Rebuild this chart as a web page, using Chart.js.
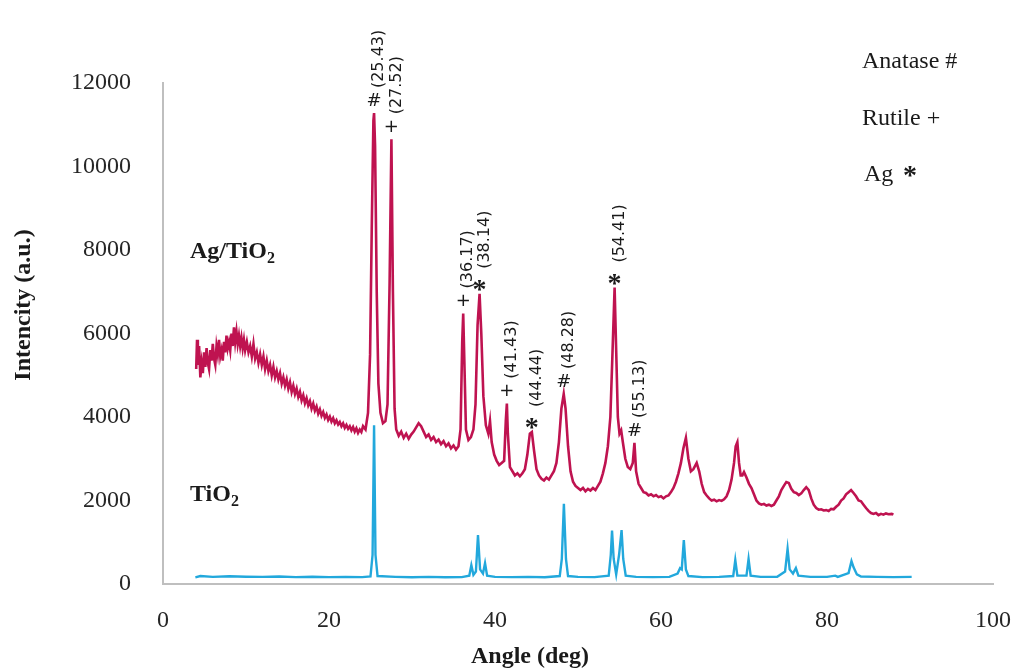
<!DOCTYPE html>
<html>
<head>
<meta charset="utf-8">
<script src="https://cdn.jsdelivr.net/npm/chart.js@4.4.1/dist/chart.umd.min.js"></script>
<style>
  html, body { margin: 0; padding: 0; background: #fff; }
  #wrap { width: 1015px; height: 669px; }
</style>
</head>
<body>
<div id="wrap"><canvas id="xrdChart" width="1015" height="669"></canvas></div>
<script>
// Ag/TiO2 pattern (angle in deg, intensity in a.u.)
const agAngle = [
    4.0, 4.1, 4.2, 4.35, 4.5, 4.65, 4.8, 4.95, 5.1, 5.25,
    5.4, 5.55, 5.7, 5.85, 6.0, 6.15, 6.3, 6.45, 6.6, 6.75,
    6.9, 7.05, 7.2, 7.35, 7.5, 7.65, 7.8, 7.95, 8.1, 8.25,
    8.4, 8.55, 8.7, 8.85, 9.0, 9.15, 9.3, 9.45, 9.6, 9.75,
    9.9, 10.1, 10.3, 10.5, 10.7, 10.9, 11.1, 11.3, 11.5, 11.7,
    11.9, 12.1, 12.3, 12.5, 12.7, 12.9, 13.1, 13.3, 13.5, 13.7,
    13.9, 14.1, 14.3, 14.5, 14.7, 14.9, 15.1, 15.3, 15.5, 15.7,
    15.9, 16.1, 16.3, 16.5, 16.7, 16.9, 17.1, 17.3, 17.5, 17.7,
    17.9, 18.1, 18.3, 18.5, 18.7, 18.9, 19.1, 19.3, 19.5, 19.7,
    19.9, 20.1, 20.3, 20.5, 20.7, 20.9, 21.1, 21.3, 21.5, 21.7,
    21.9, 22.1, 22.3, 22.5, 22.7, 22.9, 23.1, 23.3, 23.5, 23.7,
    23.9, 24.1, 24.4,
    24.7, 24.95, 25.15, 25.35, 25.43, 25.55, 25.75, 25.95, 26.2, 26.5, 26.8, 27.05, 27.3, 27.52, 27.7, 27.9, 28.1, 28.4, 28.7,
    29.0, 29.3, 29.6, 29.9, 30.2, 30.5, 30.8, 31.1, 31.4, 31.7, 32.0, 32.3, 32.6, 32.9, 33.2, 33.5, 33.8, 34.1, 34.4, 34.7,
    35.0, 35.3, 35.6, 35.85, 36.05, 36.17, 36.3, 36.5, 36.8, 37.1, 37.4, 37.65, 37.9, 38.14, 38.35, 38.6, 38.9, 39.2, 39.4, 39.6,
    39.9, 40.2, 40.5, 40.8, 41.1, 41.3, 41.43, 41.55, 41.8, 42.1, 42.4, 42.7, 43.0, 43.3, 43.6, 43.9, 44.2, 44.44, 44.7, 45.0,
    45.3, 45.6, 45.9, 46.2, 46.5, 46.8, 47.1, 47.4, 47.7, 48.0, 48.28, 48.5, 48.8, 49.1, 49.4, 49.7, 50.0, 50.3, 50.6, 50.9,
    51.2, 51.5, 51.8, 52.1, 52.4, 52.7, 53.0, 53.3, 53.6, 53.9, 54.15, 54.41, 54.6, 54.8, 55.0, 55.2, 55.4, 55.7, 56.0, 56.3,
    56.6, 56.8, 57.0, 57.3, 57.6, 57.9, 58.2, 58.5, 58.8, 59.1, 59.4, 59.7, 60.0, 60.3, 60.6, 60.9, 61.2, 61.5, 61.8, 62.1,
    62.4, 62.7, 63.0, 63.3, 63.6, 63.9, 64.3, 64.6, 64.9, 65.2, 65.5, 65.8, 66.1, 66.4, 66.7, 67.0, 67.3, 67.6, 67.9, 68.2,
    68.5, 68.8, 69.0, 69.2, 69.4, 69.6, 69.8, 70.0, 70.3, 70.6, 70.9, 71.2, 71.5, 71.8, 72.1, 72.4, 72.7, 73.0, 73.3, 73.6,
    73.9, 74.2, 74.5, 74.8, 75.1, 75.4, 75.7, 76.0, 76.3, 76.6, 76.9, 77.2, 77.5, 77.8, 78.1, 78.4, 78.7, 79.0, 79.3, 79.6,
    79.9, 80.2, 80.5, 80.8, 81.1, 81.4, 81.7, 82.0, 82.3, 82.6, 82.9, 83.2, 83.5, 83.8, 84.1, 84.4, 84.7, 85.0, 85.3, 85.6,
    85.9, 86.2, 86.5, 86.8, 87.1, 87.4, 87.8, 88.0
];
const agIntensity = [
    5150, 5850, 5250, 5700, 4950, 5300, 5050, 5550, 5200, 5650,
    5300, 5150, 5600, 5350, 5750, 5400, 5250, 5700, 5500, 5850,
    5450, 5600, 5350, 5800, 5550, 5950, 5650, 5800, 5600, 6000,
    5700, 6150, 5800, 6050, 5750, 5950, 5700, 5900, 5650, 5850,
    5600, 5800, 5550, 5700, 5450, 5750, 5400, 5550, 5300, 5500,
    5250, 5450, 5150, 5350, 5100, 5250, 5000, 5200, 4950, 5100,
    4900, 5050, 4800, 4950, 4750, 4900, 4680, 4830, 4600, 4750,
    4550, 4680, 4480, 4600, 4400, 4520, 4330, 4450, 4280, 4380,
    4200, 4320, 4150, 4250, 4080, 4180, 4030, 4120, 3980, 4060,
    3930, 4010, 3890, 3970, 3850, 3920, 3820, 3880, 3780, 3850,
    3740, 3810, 3720, 3780, 3680, 3760, 3650, 3730, 3620, 3700,
    3640, 3780, 3700,
    4100, 5500, 8500, 11100, 11280, 10500, 7000, 4800, 4100, 3850, 3900, 4300, 7200, 10650, 7000, 4200, 3700, 3550, 3650,
    3500, 3600, 3480, 3580, 3650, 3750, 3850, 3780, 3650, 3520, 3580, 3450, 3520, 3400, 3460, 3350, 3420, 3300, 3370, 3250,
    3320, 3220, 3300, 3700, 5800, 6480, 5400, 3700, 3450, 3520, 3700, 4300, 6200, 6950, 6000, 4500, 3800, 3600, 3900, 3400,
    3100, 2950, 2850, 2900, 2950, 3900, 4320, 3600, 2800, 2700, 2600, 2650, 2580, 2650, 2750, 3100, 3600, 3640, 3200, 2750,
    2600, 2520, 2480, 2550, 2500, 2600, 2700, 2900, 3400, 4200, 4550, 4200, 3300, 2700, 2450, 2350, 2300, 2250, 2300, 2220,
    2280, 2240, 2300, 2250, 2350, 2450, 2650, 2900, 3300, 4000, 5500, 7100, 5600, 4000, 3600, 3680, 3400, 3000, 2800, 2750,
    2900, 3380, 2700, 2400, 2300, 2200, 2180, 2120, 2150, 2100, 2130, 2080, 2100, 2050, 2100, 2120, 2200, 2300, 2450, 2650,
    2900, 3250, 3500, 3000, 2700, 2750, 2900, 2700, 2400, 2200, 2120, 2050, 2000, 2020, 1980, 2010, 1990, 2030, 2100, 2250,
    2500, 2900, 3300, 3400, 2900, 2600, 2600, 2680, 2550, 2400, 2300, 2150, 2000, 1930, 1900, 1920, 1880, 1900, 1870, 1900,
    2000, 2100, 2250, 2350, 2440, 2420, 2280, 2200, 2180, 2130, 2170, 2250, 2320, 2250, 2050, 1900, 1820, 1780, 1790, 1760,
    1770, 1750, 1800, 1790, 1850, 1900, 2000, 2050, 2150, 2200, 2250, 2180, 2100, 2000, 1980, 1900, 1820, 1750, 1700, 1680,
    1700, 1650, 1680, 1660, 1690, 1670, 1680, 1660
];

// TiO2 pattern
const tio2Angle = [
    3.9, 4.5, 6, 8, 10, 12, 14, 16, 18, 20, 22, 24, 25.0, 25.25, 25.43, 25.6, 25.85, 28, 30, 32,
    34, 36, 36.9, 37.15, 37.4, 37.7, 37.95, 38.2, 38.55, 38.8, 39.05, 40, 42, 44, 46, 47.8, 48.05, 48.3, 48.55, 48.8,
    50, 52, 53.7, 53.95, 54.1, 54.3, 54.6, 54.95, 55.25, 55.45, 55.75, 57, 59, 61, 62.0, 62.3, 62.5, 62.75, 63.0, 63.3,
    65, 67, 68.7, 68.95, 69.2, 70.3, 70.55, 70.8, 72, 74, 74.95, 75.25, 75.5, 75.9, 76.25, 76.55, 78, 80, 81, 81.3,
    82.6, 82.95, 83.2, 83.6, 84.1, 86, 88, 90.2
];
const tio2Intensity = [
    160, 190, 170, 185, 175, 170, 180, 165, 175, 165, 170, 165, 180, 700, 3800, 700, 190, 170, 160, 170,
    160, 165, 200, 450, 220, 300, 1170, 350, 250, 500, 200, 170, 165, 170, 160, 190, 600, 1920, 600, 190,
    170, 165, 200, 700, 1280, 600, 230, 700, 1290, 600, 200, 170, 165, 170, 250, 380, 350, 1050, 350, 190,
    165, 170, 190, 575, 200, 200, 600, 200, 170, 175, 300, 840, 350, 250, 380, 200, 170, 170, 200, 170,
    260, 550, 400, 230, 180, 170, 165, 170
];

// peak annotations: angle / height of the marked peak, phase symbol, text
const peakAngles  = [25.43, 27.52, 36.17, 38.14, 41.43, 44.44, 48.28, 54.41, 56.8];
const peakHeights = [11280, 10650, 6480, 6950, 4320, 3640, 4550, 7100, 3380];
const peakSymbols = ['#', '+', '+', '*', '+', '*', '#', '*', '#'];
const peakLabels  = ['(25.43)', '(27.52)', '(36.17)', '(38.14)', '(41.43)', '(44.44)', '(48.28)', '(54.41)', '(55.13)'];

const serif = '"Liberation Serif", "Times New Roman", serif';
const sans = '"DejaVu Sans", sans-serif';

function toPoints(xs, ys) {
    return xs.map((v, i) => ({ x: v, y: ys[i] }));
}

// draws text with a subscript "2" at the end
function withSub(ctx, base, x, y, size) {
    ctx.font = 'bold ' + size + 'px ' + serif;
    ctx.fillText(base, x, y);
    const w = ctx.measureText(base).width;
    ctx.font = 'bold ' + Math.round(size * 0.65) + 'px ' + serif;
    ctx.fillText('2', x + w, y + 5);
}

const textPlugin = {
    id: 'xrdText',
    afterDatasetsDraw(chart) {
        const { ctx, chartArea, scales: { x, y } } = chart;
        ctx.save();
        ctx.fillStyle = '#1a1a1a';

        peakAngles.forEach((a, i) => {
            const px = x.getPixelForValue(a);
            const py = y.getPixelForValue(peakHeights[i]);
            ctx.textAlign = 'center';
            if (peakSymbols[i] === '*') {
                ctx.font = 'bold 28px ' + serif;
                ctx.textBaseline = 'alphabetic';
                ctx.fillText('*', px, py + 4);
            } else {
                ctx.font = '18px ' + sans;
                ctx.textBaseline = 'middle';
                ctx.fillText(peakSymbols[i], px, py - 12);
            }
            ctx.save();
            ctx.translate(px + 5, py - 25);
            ctx.rotate(-Math.PI / 2);
            ctx.font = '16px ' + sans;
            ctx.textAlign = 'left';
            ctx.textBaseline = 'middle';
            ctx.fillText(peakLabels[i], 0, 0);
            ctx.restore();
        });

        // sample names
        ctx.textAlign = 'left';
        ctx.textBaseline = 'alphabetic';
        withSub(ctx, 'Ag/TiO', chartArea.left + 27, 258, 24);
        withSub(ctx, 'TiO', chartArea.left + 27, 501, 24);

        // phase key, top right
        ctx.font = '24px ' + serif;
        ctx.fillText('Anatase #', 862, 68);
        ctx.fillText('Rutile +', 862, 125);
        ctx.fillText('Ag', 864, 181);
        ctx.font = 'bold 28px ' + serif;
        ctx.fillText('*', 903, 184);

        // axis titles
        ctx.font = 'bold 24px ' + serif;
        ctx.textAlign = 'center';
        ctx.textBaseline = 'middle';
        ctx.fillText('Angle (deg)', 530, 657);
        ctx.save();
        ctx.translate(24, 305);
        ctx.rotate(-Math.PI / 2);
        ctx.fillText('Intencity (a.u.)', 0, 0);
        ctx.restore();

        ctx.restore();
    }
};

const ctx = document.getElementById('xrdChart').getContext('2d');

new Chart(ctx, {
    type: 'line',
    data: {
        datasets: [
            {
                label: 'Ag/TiO2',
                data: toPoints(agAngle, agIntensity),
                borderColor: '#bf1350',
                borderWidth: 2.6,
                pointRadius: 0,
                tension: 0,
                fill: false
            },
            {
                label: 'TiO2',
                data: toPoints(tio2Angle, tio2Intensity),
                borderColor: '#22a8dc',
                borderWidth: 2.4,
                pointRadius: 0,
                tension: 0,
                fill: false
            }
        ]
    },
    options: {
        responsive: false,
        animation: false,
        layout: { padding: { top: 83, right: 22, left: 0, bottom: 0 } },
        plugins: {
            legend: { display: false },
            tooltip: { enabled: false }
        },
        scales: {
            x: {
                type: 'linear',
                min: 0,
                max: 100,
                ticks: {
                    stepSize: 20,
                    padding: 14,
                    color: '#262626',
                    font: { family: serif, size: 24 }
                },
                grid: { display: false },
                border: { display: true, color: '#bfbfbf', width: 2 },
                afterFit: scale => {
                    scale.height = 85;
                    scale.paddingLeft = 0;
                    scale.paddingRight = 0;
                }
            },
            y: {
                min: 0,
                max: 12000,
                ticks: {
                    stepSize: 2000,
                    padding: 24,
                    color: '#262626',
                    font: { family: serif, size: 24 },
                    callback: v => String(v)
                },
                grid: { display: false },
                border: { display: true, color: '#bfbfbf', width: 2 },
                afterFit: scale => { scale.width = 163; }
            }
        }
    },
    plugins: [textPlugin]
});
</script>
</body>
</html>
